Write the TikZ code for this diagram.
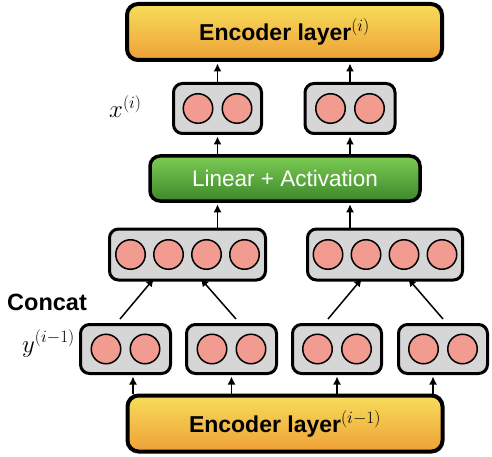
\documentclass[tikz,border=0pt]{standalone}
\usepackage{fontspec}
\setmainfont{Liberation Sans}
\usetikzlibrary{arrows.meta,calc}
\definecolor{encTopC}{HTML}{F6DD5A}
\definecolor{encBotC}{HTML}{EFA037}
\definecolor{linTopC}{HTML}{7CCB54}
\definecolor{linBotC}{HTML}{3D882A}
\definecolor{boxGray}{HTML}{D6D6D6}
\definecolor{neuron}{HTML}{F29B90}
\tikzset{
  encbox/.style={draw=black, line width=4pt, rounded corners=11pt,
    top color=encTopC, bottom color=encBotC,
    minimum width=315pt, minimum height=56pt, inner sep=0pt,
    font=\fontsize{23}{27}\selectfont\bfseries},
  linbox/.style={draw=black, line width=3.5pt, rounded corners=10pt,
    top color=linTopC, bottom color=linBotC, text=white,
    minimum width=270pt, minimum height=45pt, inner sep=0pt,
    font=\fontsize{22.5}{26}\selectfont},
  vecbox/.style={draw=black, line width=3pt, rounded corners=9pt, fill=boxGray,
    minimum height=50pt, inner sep=0pt},
  neu/.style={circle, draw=black, line width=1.5pt, fill=neuron,
    minimum size=29.5pt, inner sep=0pt},
  arr/.style={line width=1.5pt, -{Latex[length=8pt,width=8pt]}, shorten >=1.5pt},
  mathlbl/.style={font=\fontsize{24}{28}\selectfont, inner sep=0pt},
}
\begin{document}
\begin{tikzpicture}[x=1pt,y=-1pt]
\useasboundingbox (0,0) rectangle (492,457);

% encoder layers
\node[encbox] (encT) at (284.5,32) {Encoder layer$^{(i)}$};
\node[encbox] (encB) at (285,423.5) {Encoder layer$^{(i-1)}$};

% linear + activation
\node[linbox] (lin) at (285,178.5) {Linear + Activation};

% x^(i) boxes
\node[vecbox, minimum width=88pt] (x1) at (217.5,108.5) {};
\node[vecbox, minimum width=90pt] (x2) at (350,108.5) {};
\foreach \b in {x1,x2}{
  \node[neu] (\b a) at ($(\b)+(-19.5,0)$) {};
  \node[neu] (\b b) at ($(\b)+(19.5,0)$) {};
}

% concatenated boxes
\node[vecbox, minimum width=156pt, minimum height=51pt] (c1) at (187.5,254.5) {};
\node[vecbox, minimum width=155pt, minimum height=51pt] (c2) at (385,254.5) {};
\foreach \b in {c1,c2}{
  \node[neu] (\b a) at ($(\b)+(-57,0)$) {};
  \node[neu] (\b b) at ($(\b)+(-19,0)$) {};
  \node[neu] (\b c) at ($(\b)+(19,0)$) {};
  \node[neu] (\b d) at ($(\b)+(57,0)$) {};
}

% y^(i-1) boxes
\node[vecbox, minimum width=90pt, minimum height=49pt] (y1) at (125.5,349) {};
\node[vecbox, minimum width=90pt, minimum height=49pt] (y2) at (231.5,349) {};
\node[vecbox, minimum width=89pt, minimum height=49pt] (y3) at (337,349) {};
\node[vecbox, minimum width=89pt, minimum height=49pt] (y4) at (443,349) {};
\foreach \b in {y1,y2,y3,y4}{
  \node[neu] (\b a) at ($(\b)+(-19.5,0)$) {};
  \node[neu] (\b b) at ($(\b)+(19.5,0)$) {};
}

% labels
\node[mathlbl, anchor=base west] (xl) at (109,118) {$x^{(i)}$};
\node[mathlbl, anchor=base west] (yl) at (22,352) {$y^{(i-1)}$};
\node[anchor=base west, inner sep=0pt, font=\fontsize{23.5}{28}\selectfont\bfseries] (cc) at (7,310) {Concat};

% arrows: encoder (i-1) -> y boxes
\draw[arr] ($(encB.north -| y1)+(7.5,0)$) -- ($(y1.south)+(7.5,0)$);
\draw[arr] (encB.north -| y2) -- (y2.south);
\draw[arr] (encB.north -| y3) -- (y3.south);
\draw[arr] ($(encB.north -| y4)+(-10,0)$) -- ($(y4.south)+(-10,0)$);

% concat arrows
\draw[arr, shorten >=0pt] ($(y1.north)+(-5.5,-4)$) -- ($(c1.south)+(-33.5,-3)$);
\draw[arr, shorten >=0pt] ($(y2.north)+(4.5,-4)$) -- ($(c1.south)+(13,-3)$);
\draw[arr, shorten >=0pt] ($(y3.north)+(-9,-4)$) -- ($(c2.south)+(-23,-3)$);
\draw[arr, shorten >=0pt] ($(y4.north)+(0,-4)$) -- ($(c2.south)+(23,-3)$);

% concat -> linear
\draw[arr] (c1.north -| x1) -- (lin.south -| x1);
\draw[arr] (c2.north -| x2) -- (lin.south -| x2);

% linear -> x boxes
\draw[arr] (lin.north -| x1) -- (x1.south);
\draw[arr] (lin.north -| x2) -- (x2.south);

% x boxes -> encoder (i)
\draw[arr] (x1.north) -- (encT.south -| x1);
\draw[arr] (x2.north) -- (encT.south -| x2);
\end{tikzpicture}
\end{document}
